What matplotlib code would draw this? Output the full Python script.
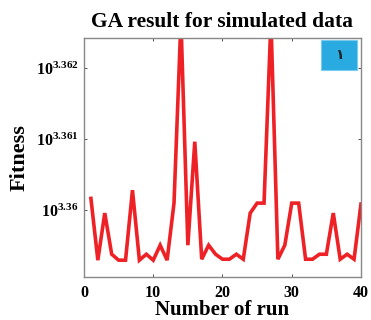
import matplotlib
matplotlib.use("Agg")
import matplotlib.pyplot as plt
from matplotlib.patches import Rectangle
from matplotlib.ticker import FixedLocator, FixedFormatter, NullLocator

plt.rcParams.update({
    "font.family": "serif",
    "font.serif": ["Liberation Serif", "DejaVu Serif"],
    "font.weight": "bold",
    "mathtext.fontset": "custom",
    "mathtext.rm": "Liberation Serif:bold",
    "mathtext.bf": "Liberation Serif:bold",
    "mathtext.it": "Liberation Serif:bold",
})

# run number and best fitness per run
runs = list(range(1, 41))
fitness = [2291.74, 2287.16, 2290.65, 2287.60, 2287.16, 2287.16, 2292.35, 2287.16,
           2287.60, 2287.16, 2288.27, 2287.16, 2291.39, 2305.00, 2288.27, 2295.95,
           2287.23, 2288.27, 2287.60, 2287.23, 2287.23, 2287.60, 2287.23, 2290.65,
           2291.39, 2291.39, 2305.00, 2287.23, 2288.27, 2291.39, 2291.39, 2287.23,
           2287.23, 2287.60, 2287.60, 2290.65, 2287.23, 2287.60, 2287.23, 2291.32]

ytick_exps = [3.36, 3.361, 3.362]
ytick_labels = ["$10^{3.36}$", "$10^{3.361}$", "$10^{3.362}$"]
xticks = [0, 10, 20, 30, 40]

fig = plt.figure(figsize=(3.71, 3.2), dpi=100)
ax = fig.add_axes([0.2264, 0.1344, 0.7466, 0.7466])

ax.plot(runs, fitness, color="#EE2226", linewidth=2.6, solid_joinstyle="miter")

ax.set_yscale("log")
ax.set_xlim(0, 40)
ax.set_ylim(10 ** 3.35906, 10 ** 3.36242)
ax.yaxis.set_major_locator(FixedLocator([10 ** e for e in ytick_exps]))
ax.yaxis.set_major_formatter(FixedFormatter(ytick_labels))
ax.yaxis.set_minor_locator(NullLocator())
ax.set_xticks(xticks)
ax.set_xticklabels([str(t) for t in xticks])

ax.tick_params(direction="in", length=2, width=0.6, top=True, right=True,
               colors="#333333", labelcolor="black", labelsize=11.5)
ax.tick_params(axis="x", pad=6)
ax.tick_params(axis="y", pad=4)
for lab in ax.get_xticklabels() + ax.get_yticklabels():
    lab.set_fontweight("bold")
for sp in ax.spines.values():
    sp.set_color("#888888")
    sp.set_linewidth(1.0)

ax.set_title("GA result for simulated data", fontsize=15.5, fontweight="bold", pad=8)
ax.set_xlabel("Number of run", fontsize=15, fontweight="bold", labelpad=-1)
ax.set_ylabel("Fitness", fontsize=16, fontweight="bold", labelpad=4)

# blue legend-like box in the upper right corner
ax.add_patch(Rectangle((0.856, 0.866), 0.130, 0.126, transform=ax.transAxes,
                       facecolor="#29ABE2", edgecolor="#7CCBEE", linewidth=0.8,
                       zorder=5))
ax.text(0.921, 0.929, "\u0661", transform=ax.transAxes, ha="center", va="center",
        fontsize=10, family=["DejaVu Sans"], color="#222222", zorder=6)

fig.savefig("out.png", dpi=100)
